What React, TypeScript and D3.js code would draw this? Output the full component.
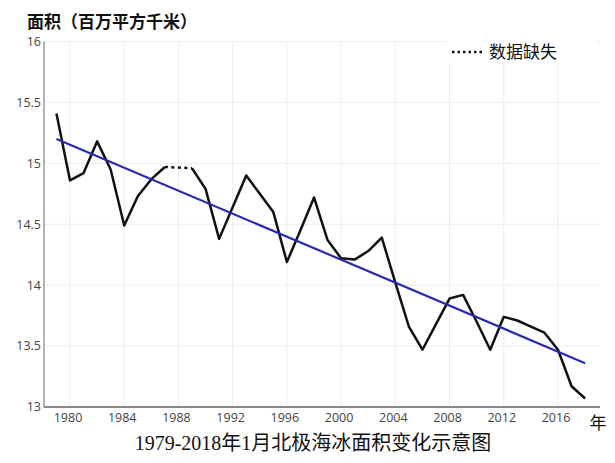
import React, { useEffect, useRef } from 'react';
import * as d3 from 'd3';

// January Arctic sea ice extent, million km² (1988 missing)
const years = d3.range(1979, 2019);
const extent: (number | null)[] = [
  15.41, 14.86, 14.92, 15.18, 14.95, 14.49, 14.73, 14.87, 14.97, null,
  14.96, 14.79, 14.38, 14.64, 14.9, 14.75, 14.6, 14.19, 14.45, 14.72,
  14.37, 14.22, 14.21, 14.28, 14.39, 14.02, 13.66, 13.47, 13.68, 13.89,
  13.92, 13.7, 13.47, 13.74, 13.71, 13.66, 13.61, 13.47, 13.17, 13.07,
];
const trendYears = [1979, 2018];
const trendValues = [15.2, 13.36];
const xTicks = [1980, 1984, 1988, 1992, 1996, 2000, 2004, 2008, 2012, 2016];
const yTicks = [13, 13.5, 14, 14.5, 15, 15.5, 16];

const W = 615;
const H = 463;

export default function App() {
  const svgRef = useRef<SVGSVGElement>(null);

  useEffect(() => {
    if (!svgRef.current) return;
    const svg = d3.select(svgRef.current);
    svg.selectAll('*').remove();

    const x = d3.scaleLinear().domain([1980, 2016]).range([70, 558]);
    const y = d3.scaleLinear().domain([13, 16]).range([407, 41.5]);
    const left = 44;
    const right = 600;

    svg.append('rect').attr('width', W).attr('height', H).attr('fill', '#fff');

    // grid
    const grid = svg.append('g').attr('stroke', '#ececec').attr('stroke-width', 1);
    grid.selectAll('.vg').data(xTicks).enter().append('line')
      .attr('x1', d => x(d)).attr('x2', d => x(d))
      .attr('y1', y(16)).attr('y2', y(13));
    grid.selectAll('.hg').data(yTicks.slice(1)).enter().append('line')
      .attr('x1', left).attr('x2', right)
      .attr('y1', d => y(d)).attr('y2', d => y(d));

    // axes
    svg.append('line')
      .attr('x1', left).attr('x2', left).attr('y1', y(16)).attr('y2', y(13))
      .attr('stroke', '#9a9a9a').attr('stroke-width', 1.5);
    svg.append('line')
      .attr('x1', left).attr('x2', right).attr('y1', y(13)).attr('y2', y(13))
      .attr('stroke', '#8a8a8a').attr('stroke-width', 2);

    const tickFont = '"Open Sans", "Noto Sans", sans-serif';
    svg.selectAll('.yl').data(yTicks).enter().append('text')
      .attr('x', 41).attr('y', d => y(d)).attr('dy', '0.35em')
      .attr('text-anchor', 'end').attr('font-size', 12.5)
      .attr('font-family', tickFont).attr('fill', '#444')
      .text(d => String(d));
    svg.selectAll('.xl').data(xTicks).enter().append('text')
      .attr('x', d => x(d) - 2).attr('y', 418).attr('dy', '0.35em')
      .attr('text-anchor', 'middle').attr('font-size', 12.5)
      .attr('font-family', tickFont).attr('fill', '#444')
      .text(d => String(d));

    // legend
    const lg = svg.append('g');
    lg.append('rect').attr('x', 446).attr('y', 41).attr('width', 150).attr('height', 22).attr('fill', '#fff');
    lg.append('line')
      .attr('x1', 452).attr('x2', 485).attr('y1', 52).attr('y2', 52)
      .attr('stroke', '#111').attr('stroke-width', 2.5).attr('stroke-dasharray', '2.5,3');
    lg.append('text')
      .attr('x', 489).attr('y', 52).attr('dy', '0.35em')
      .attr('font-size', 17).attr('font-family', '"Noto Sans CJK SC", sans-serif')
      .attr('fill', '#111').text('数据缺失');

    const pts = years.map((yr, i) => ({ yr, v: extent[i] }));

    // dotted segment across missing data
    const gapIdx = pts.findIndex(p => p.v == null);
    if (gapIdx > 0) {
      const a = pts[gapIdx - 1];
      const b = pts[gapIdx + 1];
      svg.append('line')
        .attr('x1', x(a.yr)).attr('y1', y(a.v as number))
        .attr('x2', x(b.yr)).attr('y2', y(b.v as number))
        .attr('stroke', '#111').attr('stroke-width', 2.5).attr('stroke-dasharray', '3,3.5');
    }

    const line = d3.line<{ yr: number; v: number | null }>()
      .defined(d => d.v != null)
      .x(d => x(d.yr))
      .y(d => y(d.v as number));
    svg.append('path')
      .datum(pts)
      .attr('d', line)
      .attr('fill', 'none')
      .attr('stroke', '#111')
      .attr('stroke-width', 2.5)
      .attr('stroke-linejoin', 'round');

    // trend line
    svg.append('line')
      .attr('x1', x(trendYears[0])).attr('y1', y(trendValues[0]))
      .attr('x2', x(trendYears[1])).attr('y2', y(trendValues[1]))
      .attr('stroke', '#2a2ab0').attr('stroke-width', 2.2);

    // labels
    svg.append('text')
      .attr('x', 27).attr('y', 22).attr('dy', '0.35em')
      .attr('font-size', 17).attr('font-weight', 'bold')
      .attr('font-family', '"Noto Sans CJK SC", sans-serif')
      .attr('fill', '#111').text('面积（百万平方千米）');
    svg.append('text')
      .attr('x', 598).attr('y', 423).attr('dy', '0.35em')
      .attr('text-anchor', 'middle').attr('font-size', 17)
      .attr('font-family', '"Noto Sans CJK SC", sans-serif')
      .attr('fill', '#111').text('年');
    svg.append('text')
      .attr('x', 313).attr('y', 443).attr('dy', '0.35em')
      .attr('text-anchor', 'middle').attr('font-size', 20)
      .attr('font-family', '"Liberation Serif", "Noto Sans CJK SC", serif')
      .attr('fill', '#111').text('1979-2018年1月北极海冰面积变化示意图');
  }, []);

  return (
    <div style={{ position: 'absolute', left: 0, top: 0 }}>
      <svg ref={svgRef} width={W} height={H} style={{ display: 'block' }} />
    </div>
  );
}
